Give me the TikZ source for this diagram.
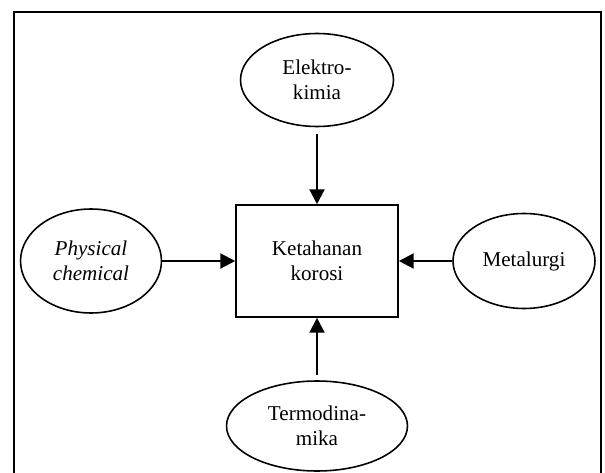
\documentclass[tikz,border=0pt]{standalone}
\usepackage{fontspec}
\setmainfont{Liberation Serif}
\usetikzlibrary{shapes.geometric,arrows.meta}
\begin{document}
\begin{tikzpicture}[x=0.02cm,y=-0.02cm,
    teks/.style={font=\fontsize{12}{14.5}\selectfont},
    faktor/.style={teks,ellipse,draw,line width=0.9pt,inner sep=0pt,align=center},
    pusat/.style={teks,rectangle,draw,line width=0.9pt,minimum width=3.24cm,minimum height=2.24cm,align=center},
    panah/.style={line width=1.3pt,-{Triangle[length=8.5pt,width=8.5pt]}}]
    \path[use as bounding box,clip] (0,0) rectangle (605,473);
    \draw[line width=1.1pt] (14,12) rectangle (601,490);
    % faktor-faktor
    \node[faktor,minimum width=3.06cm,minimum height=1.86cm] (elektro) at (317,80) {Elektro-\\kimia};
    \node[pusat] (ketahanan) at (317,261) {Ketahanan\\korosi};
    \node[faktor,minimum width=2.82cm,minimum height=2.08cm] (fisika) at (91,261) {\textit{Physical}\\\textit{chemical}};
    \node[faktor,minimum width=2.84cm,minimum height=1.9cm] (metalurgi) at (524,261) {Metalurgi};
    \node[faktor,minimum width=3.62cm,minimum height=1.8cm] (termo) at (317,426) {Termodina-\\mika};
    % panah
    \draw[panah,shorten <=4pt] (elektro) -- (ketahanan);
    \draw[panah] (fisika) -- (ketahanan);
    \draw[panah] (metalurgi) -- (ketahanan);
    \draw[panah,shorten <=3pt] (termo) -- (ketahanan);
\end{tikzpicture}
\end{document}
